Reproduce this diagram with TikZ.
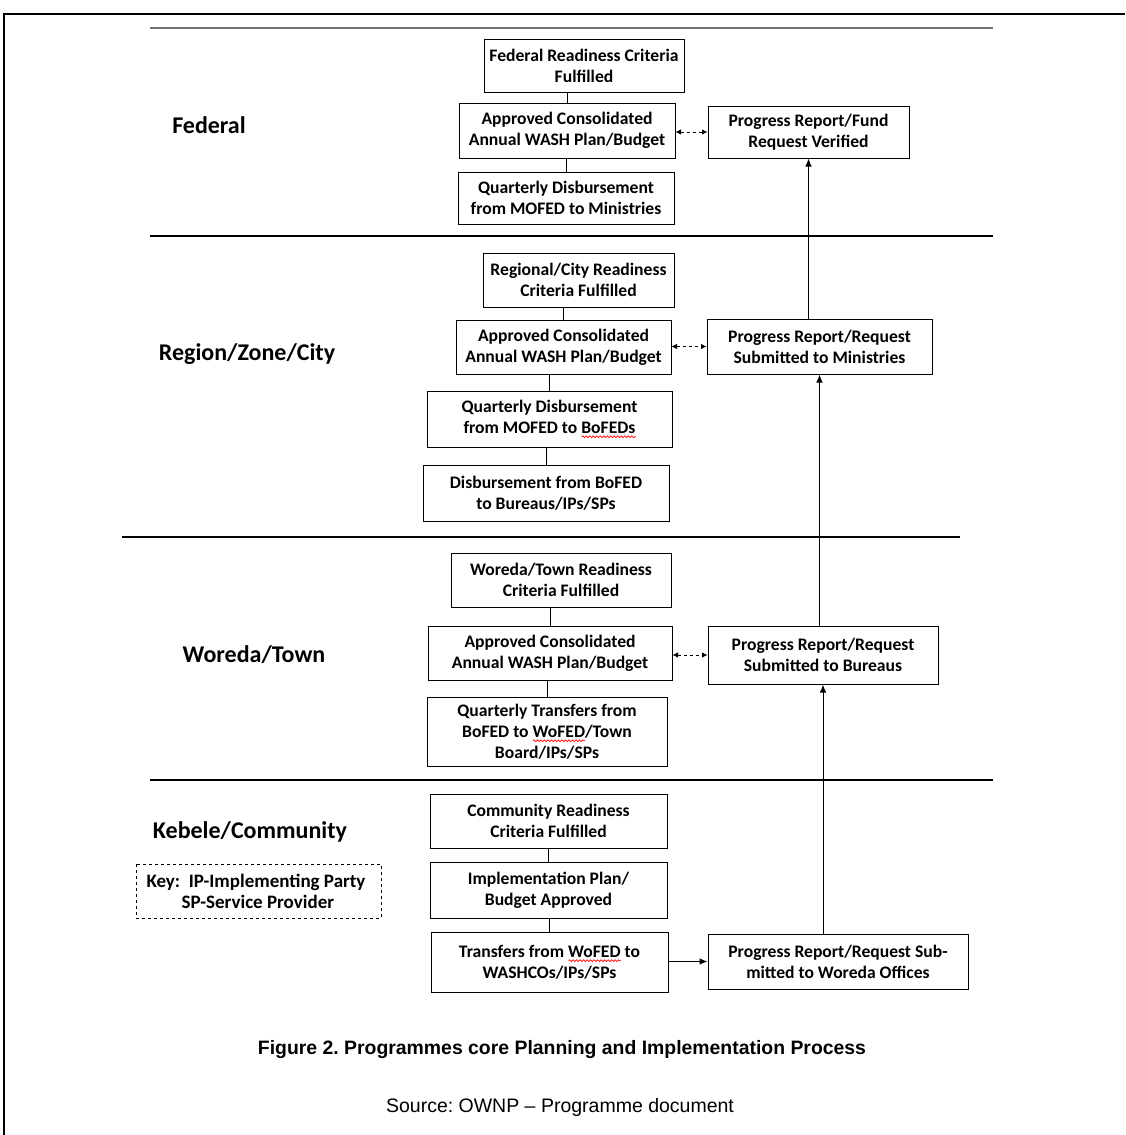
\documentclass[tikz,border=0pt]{standalone}
\usepackage{fontspec}
\setmainfont{Carlito}
\newfontfamily\capfont{Liberation Sans}
\usetikzlibrary{arrows.meta,decorations.pathmorphing}
\frenchspacing

% red spell-check wave under a word
\newdimen\wavewd
\newcommand{\redwave}[1]{\setbox0=\hbox{#1}\wavewd=\wd0\leavevmode
  \rlap{\raisebox{-3.5pt}{\tikz[x=1pt,y=1pt,baseline=0pt]
    \draw[red,line width=.7pt,decorate,
      decoration={snake,amplitude=.9pt,segment length=3.5pt}]
      (0,0) -- (\wavewd,0);}}\box0\relax}

\begin{document}
\begin{tikzpicture}[x=1pt,y=-1pt,
  stage/.style={draw,line width=1pt,align=center,inner sep=0pt,
    font=\fontsize{17.6}{21}\selectfont\bfseries},
  level/.style={font=\fontsize{24}{28}\selectfont\bfseries},
  rule/.style={line width=1.6pt},
  flow/.style={-{Latex[length=8pt,width=6.5pt]},line width=1pt},
  link/.style={{Latex[length=5.5pt,width=5.5pt]}-{Latex[length=5.5pt,width=5.5pt]},
    dashed,line width=.8pt}]

\useasboundingbox (0,0) rectangle (1125,1135);
\draw[line width=2pt] (4,1135) -- (4,14) -- (1125,14);

% Level separators.
\draw[line width=1.2pt,black!55] (150,28) -- (993,28);
\draw[rule] (150,236) -- (993,236);
\draw[rule] (122,537) -- (960,537);
\draw[rule] (150,780) -- (993,780);

\node[level] (federal) at (209,125) {Federal};
\node[level] (region) at (247,354) {Region/Zone/City};
\node[level] (woreda) at (254,655) {Woreda/Town};
\node[level] (kebele) at (250,832) {Kebele/Community};

% Federal level.
\node[stage,minimum width=200,minimum height=53] (fedready) at (584,65.5)
  {Federal Readiness Criteria\\Fulfilled};
\node[stage,minimum width=216,minimum height=55] (fedplan) at (567,130.5)
  {Approved Consolidated\\Annual WASH Plan/Budget};
\node[stage,minimum width=216,minimum height=52] (feddisb) at (566,198)
  {Quarterly Disbursement\\from MOFED to Ministries};
\node[stage,minimum width=201,minimum height=52] (fedrep) at (808.5,132)
  {Progress Report/Fund\\Request Verified};

% Region/zone/city level.
\node[stage,minimum width=191,minimum height=54] (regready) at (578.5,280)
  {Regional/City Readiness\\Criteria Fulfilled};
\node[stage,minimum width=215,minimum height=54] (regplan) at (563.5,347)
  {Approved Consolidated\\Annual WASH Plan/Budget};
\node[stage,minimum width=245,minimum height=56] (regdisb) at (549.5,419)
  {Quarterly Disbursement\\from MOFED to \redwave{BoFEDs}};
\node[stage,minimum width=246,minimum height=56] (regbur) at (546,493)
  {Disbursement from BoFED\\to Bureaus/IPs/SPs};
\node[stage,minimum width=225,minimum height=55] (regrep) at (819.5,346.5)
  {Progress Report/Request\\Submitted to Ministries};

% Woreda/town level.
\node[stage,minimum width=220,minimum height=54] (worready) at (561,580)
  {Woreda/Town Readiness\\Criteria Fulfilled};
\node[stage,minimum width=244,minimum height=54] (worplan) at (550,653)
  {Approved Consolidated\\Annual WASH Plan/Budget};
\node[stage,minimum width=240,minimum height=69] (wortrans) at (547,731.5)
  {Quarterly Transfers from\\BoFED to \redwave{WoFED}/Town\\Board/IPs/SPs};
\node[stage,minimum width=230,minimum height=58] (worrep) at (823,655)
  {Progress Report/Request\\Submitted to Bureaus};

% Kebele/community level.
\node[stage,minimum width=237,minimum height=54] (kebready) at (548.5,821)
  {Community Readiness\\Criteria Fulfilled};
\node[stage,minimum width=237,minimum height=56] (kebplan) at (548.5,890)
  {Implementation Plan/\\Budget Approved};
\node[stage,minimum width=237,minimum height=60] (kebtrans) at (549.5,962)
  {Transfers from \redwave{WoFED} to\\WASHCOs/IPs/SPs};
\node[stage,minimum width=260,minimum height=55] (kebrep) at (838,961.5)
  {Progress Report/Request Sub-\\mitted to Woreda Offices};

\node[stage,draw=none,align=left,font=\fontsize{19}{21}\selectfont\bfseries]
  (key) at (256,891)
  {Key:\ \ IP-Implementing Party\\\hspace{1.85em}SP-Service Provider};
\draw[dashed,line width=.8pt] (136,864) rectangle (381,918);

% Plain links down the left column.
\foreach \a/\b in {fedready/fedplan,fedplan/feddisb,regready/regplan,
  regplan/regdisb,regdisb/regbur,worready/worplan,worplan/wortrans,
  kebready/kebplan,kebplan/kebtrans}
  \draw[line width=1pt] (\b.north |- \a.south) -- (\b.north);

% Plan <-> report.
\draw[link] (fedplan.east |- fedrep.west) -- (fedrep.west);
\draw[link] (regplan.east |- regrep.west) -- (regrep.west);
\draw[link] (worplan.east |- worrep.west) -- (worrep.west);

% Reports go up.
\draw[flow] (kebtrans.east |- kebrep.west) -- (kebrep.west);
\draw[flow] (worrep.south |- kebrep.north) -- (worrep.south);
\draw[flow] (regrep.south |- worrep.north) -- (regrep.south);
\draw[flow] (fedrep.south |- regrep.north) -- (fedrep.south);

\node[font=\capfont\fontsize{19.4}{23}\selectfont\bfseries] (caption) at (562,1050)
  {Figure 2. Programmes core Planning and Implementation Process};
\node[font=\capfont\fontsize{19.5}{23}\selectfont] (source) at (560,1107)
  {Source: OWNP – Programme document};
\end{tikzpicture}
\end{document}
